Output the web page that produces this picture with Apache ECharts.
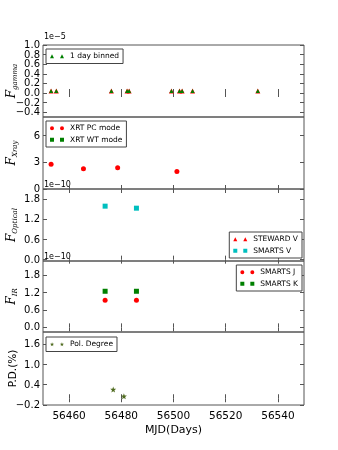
<!DOCTYPE html>
<html>
<head>
<meta charset="utf-8">
<script src="https://cdn.jsdelivr.net/npm/echarts@6/dist/echarts.min.js"></script>
<style>
  html, body { margin: 0; padding: 0; background: #fff; }
  #container { width: 338px; height: 450px; }
</style>
</head>
<body>
<div id="container"></div>
<script>
// MJD ticks shared by all panels
var mjdTicks = [56460, 56480, 56500, 56520, 56540];

// gamma, 1 day binned (units of 1e-5)
var gammaMjd = [56453.1, 56455.1, 56476.2, 56482.2, 56483.0, 56499.2, 56502.3, 56503.3, 56507.3, 56532.3];
var gammaFlux = [0.04, 0.04, 0.04, 0.04, 0.04, 0.04, 0.04, 0.04, 0.04, 0.04];

// X-ray (units of 1e-10)
var xrtPcMjd = [56453.1, 56465.5, 56478.6, 56501.3];
var xrtPcFlux = [2.79, 2.27, 2.38, 1.97];
var xrtWtMjd = [];
var xrtWtFlux = [];

// optical (units of 1e-10)
var stewardVMjd = [];
var stewardVFlux = [];
var smartsVMjd = [56473.8, 56485.8];
var smartsVFlux = [1.59, 1.53];

// IR (units of 1e-10)
var smartsJMjd = [56473.8, 56485.8];
var smartsJFlux = [0.93, 0.93];
var smartsKMjd = [56473.8, 56485.8];
var smartsKFlux = [1.24, 1.24];

// polarisation degree (%)
var polMjd = [56476.9, 56481.0];
var polDeg = [0.26, 0.06];

// y tick labels per panel
var gammaTicks = [-0.4, -0.2, 0.0, 0.2, 0.4, 0.6, 0.8, 1.0];
var xrayTicks = [0, 3, 6];
var optTicks = [0.0, 0.6, 1.2, 1.8];
var irTicks = [0.0, 0.6, 1.2, 1.8];
var pdTicks = [-0.2, 0.4, 1.0, 1.6];

function pairs(xs, ys) {
    var out = [];
    for (var i = 0; i < xs.length; i++) out.push([xs[i], ys[i]]);
    return out;
}

function fmt1(v) {
    var s = Math.abs(v).toFixed(1);
    return v < -1e-9 ? '\u2212' + s : s;
}

function starPath(cx) {
    var pts = [];
    for (var k = 0; k < 10; k++) {
        var r = k % 2 === 0 ? 2.2 : 0.9;
        var a = -Math.PI / 2 + k * Math.PI / 5;
        pts.push((cx + r * Math.cos(a)).toFixed(2) + ',' + (2.2 + r * Math.sin(a)).toFixed(2));
    }
    return 'M' + pts.join(' L') + ' Z';
}

var iconTri = 'path://M0,4 L2,0 L4,4 Z M10,4 L12,0 L14,4 Z';
var iconCircle = 'path://M0,2 a2,2 0 1,0 4,0 a2,2 0 1,0 -4,0 Z M10,2 a2,2 0 1,0 4,0 a2,2 0 1,0 -4,0 Z';
var iconSquare = 'path://M0,0 L4,0 L4,4 L0,4 Z M10,0 L14,0 L14,4 L10,4 Z';
var iconStar = 'path://' + starPath(2.2) + ' ' + starPath(12.2);
var starSymbol = 'path://' + starPath(2.2);

var font = 'DejaVu Sans';
var tops = [45, 117, 189, 261, 332];
var heights = [72, 72, 72, 71, 73];
var yRanges = [[-0.5, 1.0], [0, 8.1], [-0.04, 2.1], [-0.16, 2.28], [-0.2, 1.96]];
var yTickSets = [gammaTicks, xrayTicks, optTicks, irTicks, pdTicks];
var yNames = [
    '{f|F}{s|gamma}',
    '{f|F}{s|Xray}',
    '{f|F}{s|Optical}',
    '{f|F}{s|IR}',
    '{p|P.D.(%)}'
];

var grids = [], xAxes = [], yAxes = [];
for (var i = 0; i < 5; i++) {
    grids.push({
        left: 43, right: 34, top: tops[i], height: heights[i],
        outerBoundsMode: 'none', containLabel: false,
        show: true, borderColor: '#555', borderWidth: 1, backgroundColor: 'transparent'
    });
    var last = i === 4;
    // bottom
    xAxes.push({
        type: 'value', gridIndex: i, position: 'bottom', min: 56450, max: 56550,
        axisLine: { show: false }, splitLine: { show: false },
        axisTick: { show: true, inside: true, length: 4, customValues: mjdTicks, lineStyle: { color: '#555' } },
        axisLabel: {
            show: last, customValues: mjdTicks, color: '#000', fontFamily: font, fontSize: 10.5, margin: 6,
            formatter: function (v) { return String(v); }
        },
        name: last ? 'MJD(Days)' : '', nameLocation: 'middle', nameGap: 20,
        nameTextStyle: { color: '#000', fontFamily: font, fontSize: 11 }
    });
    // top mirror
    xAxes.push({
        type: 'value', gridIndex: i, position: 'top', min: 56450, max: 56550,
        axisLine: { show: false }, splitLine: { show: false },
        axisTick: { show: true, inside: true, length: 4, customValues: mjdTicks, lineStyle: { color: '#555' } },
        axisLabel: { show: false }
    });
    var yt = yTickSets[i];
    yAxes.push({
        type: 'value', gridIndex: i, position: 'left', min: yRanges[i][0], max: yRanges[i][1],
        axisLine: { show: false }, splitLine: { show: false },
        axisTick: { show: true, inside: true, length: 4, customValues: yt, lineStyle: { color: '#555' } },
        // labels are placed below from the axis scale (the built-in ones get hidden when crowded)
        axisLabel: { show: false },
        name: yNames[i], nameLocation: 'middle', nameRotate: 90, nameGap: 24,
        nameMoveOverlap: false,
        nameTextStyle: {
            rich: {
                f: { fontFamily: 'DejaVu Serif', fontStyle: 'italic', fontSize: 12, color: '#000', lineHeight: 14 },
                s: { fontFamily: 'DejaVu Serif', fontStyle: 'italic', fontSize: 7, color: '#000', padding: [7, 0, 0, 0] },
                p: { fontFamily: font, fontSize: 10.5, color: '#000' }
            }
        }
    });
    yAxes.push({
        type: 'value', gridIndex: i, position: 'right', min: yRanges[i][0], max: yRanges[i][1],
        axisLine: { show: false }, splitLine: { show: false },
        axisTick: { show: true, inside: true, length: 4, customValues: yt, lineStyle: { color: '#555' } },
        axisLabel: { show: false }
    });
}

function scatter(name, panel, data, symbol, size, color, z) {
    return {
        name: name, type: 'scatter', xAxisIndex: panel * 2, yAxisIndex: panel * 2,
        data: data, symbol: symbol, symbolSize: size,
        itemStyle: { color: color, borderWidth: 0, opacity: 1 },
        z: z || 2, silent: true
    };
}

var legendBase = {
    orient: 'vertical', itemWidth: 14, itemHeight: 4, itemGap: 3,
    padding: [3, 4, 3, 4], backgroundColor: '#fff', borderColor: '#444', borderWidth: 1,
    textStyle: { fontFamily: font, fontSize: 7.5, color: '#000', lineHeight: 8.5, padding: [0, 0, 0, 1] },
    itemStyle: { borderWidth: 0 },
    selectedMode: false
};
function legend(extra) {
    var o = {};
    for (var k in legendBase) o[k] = legendBase[k];
    for (var k2 in extra) o[k2] = extra[k2];
    return o;
}

var red = '#ff0000', green = '#008000', cyan = '#00bfbf', olive = '#4f6b1f';

var offsetTexts = [
    { type: 'text', left: 44, top: 33, style: { text: '1e\u22125', fontFamily: font, fontSize: 8, fill: '#000' } },
    { type: 'text', left: 44, top: 181, style: { text: '1e\u221210', fontFamily: font, fontSize: 8, fill: '#000' } },
    { type: 'text', left: 44, top: 253, style: { text: '1e\u221210', fontFamily: font, fontSize: 8, fill: '#000' } }
];

var option = {
    animation: false,
    backgroundColor: '#fff',
    grid: grids,
    xAxis: xAxes,
    yAxis: yAxes,
    legend: [
        legend({ left: 46, top: 49, data: [{ name: '1 day binned', icon: iconTri }] }),
        legend({ left: 46, top: 121, data: [{ name: 'XRT PC mode', icon: iconCircle }, { name: 'XRT WT mode', icon: iconSquare }] }),
        legend({ right: 36, top: 232, data: [{ name: 'STEWARD V', icon: iconTri }, { name: 'SMARTS V', icon: iconSquare }] }),
        legend({ right: 36, top: 265, data: [{ name: 'SMARTS J', icon: iconCircle }, { name: 'SMARTS K', icon: iconSquare }] }),
        legend({ left: 46, top: 337, data: [{ name: 'Pol. Degree', icon: iconStar }] })
    ],
    graphic: offsetTexts,
    series: [
        scatter('gamma err', 0, pairs(gammaMjd, gammaFlux), 'triangle', 5, red, 2),
        scatter('1 day binned', 0, pairs(gammaMjd, gammaFlux), 'triangle', 4, green, 3),
        scatter('XRT PC mode', 1, pairs(xrtPcMjd, xrtPcFlux), 'circle', 5, red),
        scatter('XRT WT mode', 1, pairs(xrtWtMjd, xrtWtFlux), 'rect', 5, green),
        scatter('STEWARD V', 2, pairs(stewardVMjd, stewardVFlux), 'triangle', 5, red),
        scatter('SMARTS V', 2, pairs(smartsVMjd, smartsVFlux), 'rect', 5, cyan),
        scatter('SMARTS J', 3, pairs(smartsJMjd, smartsJFlux), 'circle', 5, red),
        scatter('SMARTS K', 3, pairs(smartsKMjd, smartsKFlux), 'rect', 5, green),
        scatter('Pol. Degree', 4, pairs(polMjd, polDeg), starSymbol, 6, olive)
    ]
};

var myChart = echarts.init(document.getElementById('container'), null, { renderer: 'canvas' });
myChart.setOption(option);

// y tick labels, positioned through each panel's own scale
var tickTexts = [];
for (var p = 0; p < 5; p++) {
    yTickSets[p].forEach(function (v) {
        var px = myChart.convertToPixel({ xAxisIndex: p * 2, yAxisIndex: p * 2 }, [56450, v]);
        tickTexts.push({
            type: 'text', x: px[0] - 3, y: px[1] + 0.5,
            style: {
                text: p === 1 ? String(Math.round(v)) : fmt1(v),
                align: 'right', verticalAlign: 'middle',
                fontFamily: font, fontSize: 10, fill: '#000'
            }
        });
    });
}
myChart.setOption({ graphic: offsetTexts.concat(tickTexts) });
</script>
</body>
</html>
